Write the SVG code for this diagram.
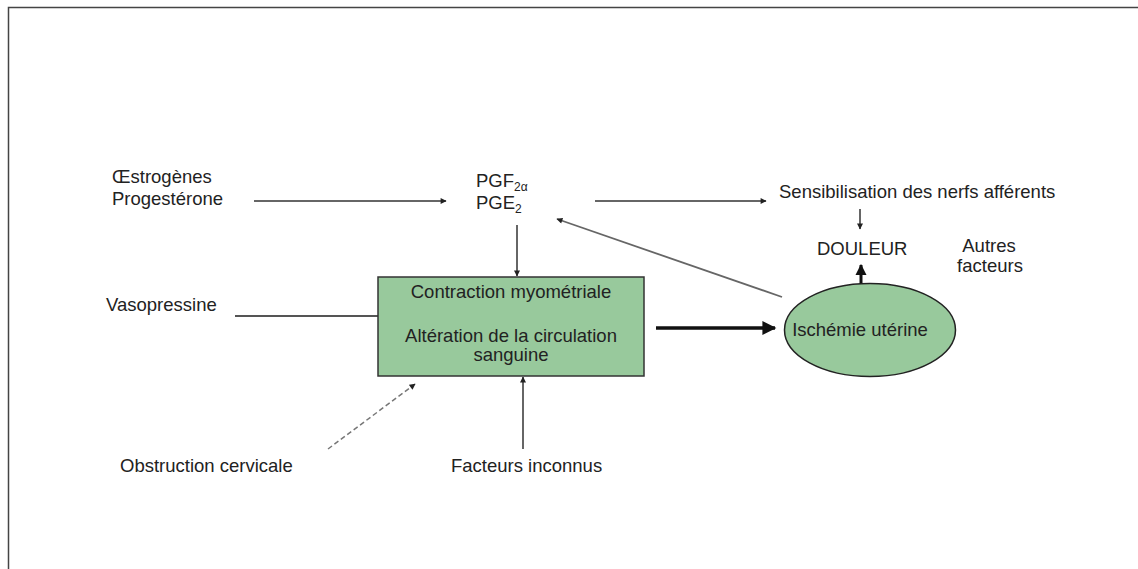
<svg xmlns="http://www.w3.org/2000/svg" width="1138" height="569" viewBox="0 0 1138 569">
<defs>
<style>
text{font-family:"Liberation Sans",Arial,sans-serif;font-size:18.5px;fill:#222}
.sub{font-size:12px}
.ln{stroke:#333;stroke-width:1.5;fill:none}
</style>
<marker id="ah" viewBox="0 0 10 10" refX="9" refY="5" markerWidth="7" markerHeight="6" orient="auto" markerUnits="userSpaceOnUse">
<path d="M0,0 L10,5 L0,10 z" fill="#222"/>
</marker>
<marker id="ahb" viewBox="0 0 10 10" refX="9" refY="5" markerWidth="20" markerHeight="14" orient="auto" markerUnits="userSpaceOnUse">
<path d="M0,0 L10,5 L0,10 z" fill="#111"/>
</marker>
<marker id="ahu" viewBox="0 0 10 10" refX="9" refY="5" markerWidth="11" markerHeight="12" orient="auto" markerUnits="userSpaceOnUse">
<path d="M0,0 L10,5 L0,10 z" fill="#111"/>
</marker>
</defs>
<rect x="0" y="0" width="1138" height="569" fill="#fff"/>
<path d="M8.5,569 V7.5 H1138" fill="none" stroke="#444" stroke-width="1.5"/>

<g id="connectors">
<line class="ln" x1="254" y1="201" x2="446" y2="201" marker-end="url(#ah)"/>
<line class="ln" x1="517" y1="225" x2="517" y2="276" marker-end="url(#ah)"/>
<line class="ln" x1="595" y1="201" x2="766" y2="201" marker-end="url(#ah)"/>
<line class="ln" x1="860" y1="209" x2="860" y2="229" marker-end="url(#ah)"/>
<line x1="782" y1="297" x2="557" y2="219" stroke="#666" stroke-width="1.8" marker-end="url(#ah)"/>
<line x1="235" y1="316" x2="378" y2="316" stroke="#555" stroke-width="1.8"/>
<line x1="656" y1="328" x2="775" y2="328" stroke="#111" stroke-width="3.5" marker-end="url(#ahb)"/>
<line x1="861" y1="284" x2="861" y2="265" stroke="#111" stroke-width="3" marker-end="url(#ahu)"/>
<line x1="328" y1="449" x2="415" y2="384" stroke="#777" stroke-width="1.5" stroke-dasharray="5,3" marker-end="url(#ah)"/>
<line class="ln" x1="523" y1="449" x2="523" y2="377" marker-end="url(#ah)"/>
</g>

<g id="hormones">
<text x="112" y="183">Œstrogènes</text>
<text x="112" y="205">Progestérone</text>
</g>
<g id="prostaglandines">
<text x="476" y="187">PGF<tspan class="sub" dy="4">2α</tspan></text>
<text x="476" y="209">PGE<tspan class="sub" dy="4">2</tspan></text>
</g>
<g id="sensibilisation">
<text x="779" y="198">Sensibilisation des nerfs afférents</text>
</g>
<g id="douleur">
<text x="817" y="255">DOULEUR</text>
</g>
<g id="autres">
<text x="989" y="252" text-anchor="middle">Autres</text>
<text x="990" y="272" text-anchor="middle">facteurs</text>
</g>
<g id="vasopressine">
<text x="106" y="311">Vasopressine</text>
</g>
<g id="contraction">
<rect x="378" y="277" width="266" height="99" fill="#98c99c" stroke="#333" stroke-width="1.5"/>
<text x="511" y="298" text-anchor="middle">Contraction myométriale</text>
<text x="511" y="342" text-anchor="middle">Altération de la circulation</text>
<text x="511" y="361" text-anchor="middle">sanguine</text>
</g>
<g id="ischemie">
<ellipse cx="870" cy="330" rx="85.5" ry="46.5" fill="#98c99c" stroke="#222" stroke-width="1.5"/>
<text x="860" y="336" text-anchor="middle">Ischémie utérine</text>
</g>
<g id="obstruction">
<text x="120" y="472">Obstruction cervicale</text>
</g>
<g id="inconnus">
<text x="451" y="472">Facteurs inconnus</text>
</g>
</svg>
